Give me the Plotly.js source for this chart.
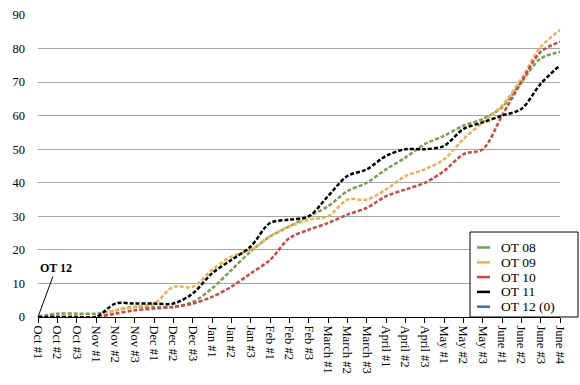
<!DOCTYPE html>
<html>
<head>
<meta charset="utf-8">
<script src="https://cdn.plot.ly/plotly-3.0.1.min.js"></script>
<style>html,body{margin:0;padding:0;background:#fff;}#chart{width:580px;height:385px;}</style>
</head>
<body>
<div id="chart"></div>
<script>
const categories = ["Oct #1","Oct #2","Oct #3","Nov #1","Nov #2","Nov #3","Dec #1","Dec #2","Dec #3",
  "Jan #1","Jan #2","Jan #3","Feb #1","Feb #2","Feb #3","March #1","March #2","March #3",
  "April #1","April #2","April #3","May #1","May #2","May #3","June #1","June #2","June #3","June #4"];

const ot08 = [0,1,1,1,2,3,3,3,4.5,8.5,14,19.5,24,27,30,33,37.5,40,44,47.5,51.5,54,57,59,62.5,70,77,79];
const ot09 = [0,0,0,0,2,3,4,9,9,14,18,20,24,27,29,30,35,35,38,42,44,47,53,58,63,71,80.5,85.5];
const ot10 = [0,0,0,0,1,2,2.5,3,4,6,9,13,17,23.5,26,28,30.5,32.5,36,38,40,43.5,48.5,50,60,70,79,82];
const ot11 = [0,0,0,0,4,4,4,4,7,13,17,21,28,29,30,36,42,44,48,50,50,51,56,58,60,62,69.5,75];
const ot12 = [0];

const seriesNames = ["OT 08","OT 09","OT 10","OT 11","OT 12 (0)"];
const seriesColors = ["#77a150","#f3b04a","#d2463f","#000000","#3d6e9e"];
const seriesData = [ot08, ot09, ot10, ot11, ot12];

const traces = seriesData.map((vals, i) => ({
  type: "scatter",
  mode: "lines",
  name: seriesNames[i],
  x: categories.slice(0, vals.length),
  y: vals,
  showlegend: false,
  line: {color: seriesColors[i], width: 2.5, dash: i < 4 ? "4px,2px" : "solid", shape: "spline", smoothing: 0.9},
  hoverinfo: "skip"
}));

const font = "Liberation Serif, Times New Roman, serif";

// plot area geometry (pixels) used for the hand-made legend box
const W = 580, H = 385, mL = 38, mR = 20, mT = 15, mB = 68;
const pw = W - mL - mR, ph = H - mT - mB;
const px = x => (x - mL) / pw;
const py = y => (H - mB - y) / ph;

const shapes = [{
  type: "rect", xref: "paper", yref: "paper", layer: "above",
  x0: px(470), x1: px(578), y0: py(317), y1: py(232),
  fillcolor: "#ffffff", line: {color: "#000000", width: 1}
}];
const annotations = [{
  x: "Oct #1", y: 0, xref: "x", yref: "y",
  text: "<b>OT 12</b>",
  showarrow: true, arrowhead: 0, arrowwidth: 1, arrowcolor: "#000",
  ax: 18, ay: -49,
  font: {family: font, size: 12, color: "#000"}
}];
seriesNames.forEach((name, i) => {
  const yy = 247.5 + i * 14.8;
  shapes.push({
    type: "line", xref: "paper", yref: "paper", layer: "above",
    x0: px(477), x1: px(490), y0: py(yy), y1: py(yy),
    line: {color: seriesColors[i], width: 2.5}
  });
  annotations.push({
    xref: "paper", yref: "paper", x: px(499), y: py(yy),
    xanchor: "left", yanchor: "middle", showarrow: false,
    text: name, font: {family: font, size: 13.5, color: "#000"}
  });
});

const layout = {
  width: W, height: H,
  margin: {l: mL, r: mR, t: mT, b: mB, pad: 0},
  paper_bgcolor: "#ffffff",
  plot_bgcolor: "#ffffff",
  font: {family: font, color: "#000", size: 12},
  showlegend: false,
  xaxis: {
    type: "category",
    range: [0, categories.length - 1],
    showgrid: false, zeroline: false,
    showline: true, linecolor: "#000", linewidth: 1,
    ticks: "outside", ticklen: 5, tickcolor: "#000", tickwidth: 1,
    tickangle: 90,
    tickfont: {family: font, size: 12.5, color: "#000"},
    fixedrange: true
  },
  yaxis: {
    range: [0, 90], dtick: 10, tick0: 0,
    showgrid: true, gridcolor: "#a6a6a6", gridwidth: 1,
    zeroline: false, showline: false, ticks: "",
    ticklabelstandoff: 12,
    tickfont: {family: font, size: 12.5, color: "#000"},
    fixedrange: true
  },
  shapes: shapes,
  annotations: annotations
};

Plotly.newPlot("chart", traces, layout, {staticPlot: true, displayModeBar: false});
</script>
</body>
</html>
